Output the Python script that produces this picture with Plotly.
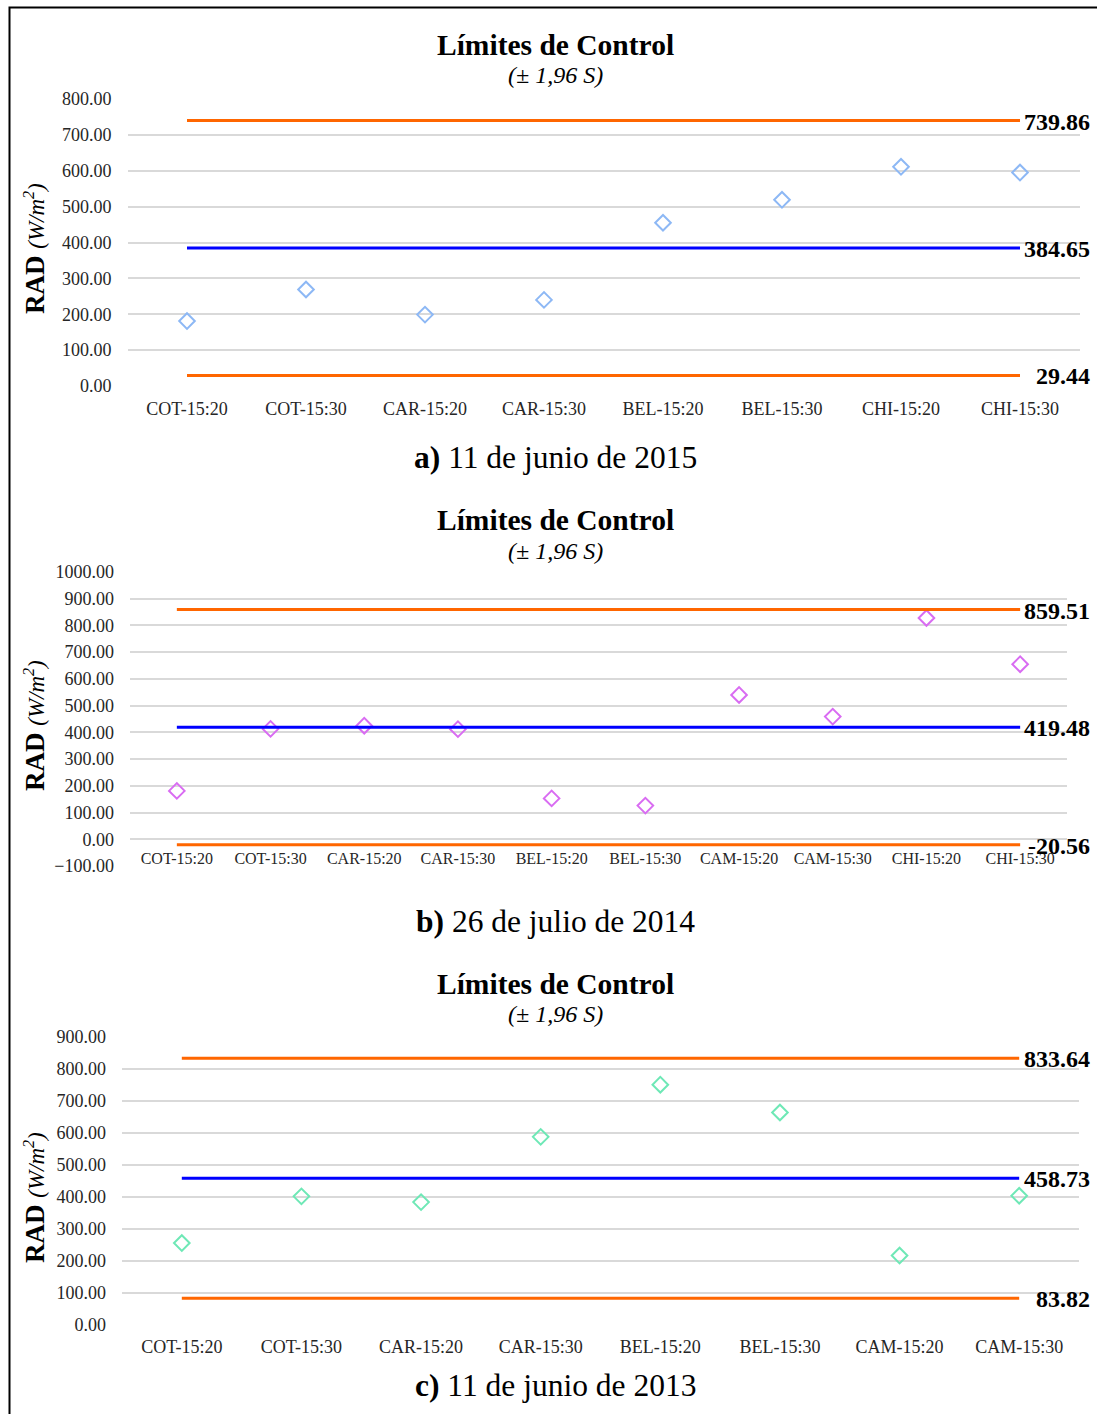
import plotly.graph_objects as go

W, H = 1097, 1414

# ---------------- data ----------------
cats_a = ["COT-15:20", "COT-15:30", "CAR-15:20", "CAR-15:30",
          "BEL-15:20", "BEL-15:30", "CHI-15:20", "CHI-15:30"]
rad_a = [181, 269, 199, 240, 455, 519, 611, 595]
ucl_a, mean_a, lcl_a = 739.86, 384.65, 29.44

cats_b = ["COT-15:20", "COT-15:30", "CAR-15:20", "CAR-15:30", "BEL-15:20",
          "BEL-15:30", "CAM-15:20", "CAM-15:30", "CHI-15:20", "CHI-15:30"]
rad_b = [181, 413, 425, 412, 153, 126, 540, 459, 828, 655]
ucl_b, mean_b, lcl_b = 859.51, 419.48, -20.56

cats_c = ["COT-15:20", "COT-15:30", "CAR-15:20", "CAR-15:30",
          "BEL-15:20", "BEL-15:30", "CAM-15:20", "CAM-15:30"]
rad_c = [256, 402, 384, 588, 751, 664, 217, 404]
ucl_c, mean_c, lcl_c = 833.64, 458.73, 83.82

captions = ["<b>a)</b> 11 de junio de 2015",
            "<b>b)</b> 26 de julio de 2014",
            "<b>c)</b> 11 de junio de 2013"]
title_main = "<b>Límites de Control</b>"
title_sub = "<i>(± 1,96 S)</i>"
ytitle = ("<b>RAD</b> <i><span style='font-size:23px'>(W/m<sup>2</sup>)</span></i>")

# ---------------- styling ----------------
FONT = "Liberation Serif, Times New Roman, serif"
ORANGE = "#FF6600"
BLUE = "#0000FF"
GRID = "#d9d9d9"
TICKC = "#262626"
marker_colors = ["#8DB8F5", "#D96CF2", "#6EE8B6"]

def px_x(p):
    return p / W

def px_y(p):
    return 1 - p / H

panels = [
    dict(cats=cats_a, vals=rad_a, lims=(ucl_a, mean_a, lcl_a), xdom=(127.5, 1079.5),
         ydom=(99, 386), yrange=(0, 800), xfont=18, xstand=10, title_y=45, sub_y=75,
         cap_y=458, ytitle_y=249, lab_shift=72),
    dict(cats=cats_b, vals=rad_b, lims=(ucl_b, mean_b, lcl_b), xdom=(130, 1067),
         ydom=(572, 866), yrange=(-100, 1000), xfont=16, xstand=8, title_y=520, sub_y=551,
         cap_y=921, ytitle_y=726, lab_shift=72),
    dict(cats=cats_c, vals=rad_c, lims=(ucl_c, mean_c, lcl_c), xdom=(122, 1079),
         ydom=(1037, 1325), yrange=(0, 900), xfont=18, xstand=9, title_y=984, sub_y=1014,
         cap_y=1385, ytitle_y=1198, lab_shift=73),
]

fig = go.Figure()
layout = dict(
    width=W, height=H, margin=dict(l=0, r=0, t=0, b=0, autoexpand=False),
    paper_bgcolor="white", plot_bgcolor="white", showlegend=False,
    font=dict(family=FONT, color="black"),
)
annotations = []

for i, p in enumerate(panels):
    n = i + 1
    xa = "x" if n == 1 else f"x{n}"
    ya = "y" if n == 1 else f"y{n}"
    cats = p["cats"]
    ucl, mean, lcl = p["lims"]

    # measured points
    fig.add_trace(go.Scatter(
        x=cats, y=p["vals"], mode="markers",
        marker=dict(symbol="diamond-open", size=12, color=marker_colors[i],
                    line=dict(width=2, color=marker_colors[i])),
        cliponaxis=False, xaxis=xa, yaxis=ya))
    # control limit lines with value labels at the right end
    for val, col in [(ucl, ORANGE), (mean, BLUE), (lcl, ORANGE)]:
        fig.add_trace(go.Scatter(
            x=[cats[0], cats[-1]], y=[val, val], mode="lines",
            line=dict(color=col, width=3),
            cliponaxis=False, xaxis=xa, yaxis=ya, hoverinfo="skip"))
        annotations.append(dict(
            text=f"<b>{val:.2f}</b>", x=cats[-1], y=val, xref=xa, yref=ya,
            showarrow=False, xanchor="right", yanchor="middle",
            xshift=p["lab_shift"], yshift=-1,
            font=dict(family=FONT, size=24, color="black")))

    yd = (px_y(p["ydom"][1]), px_y(p["ydom"][0]))
    xkey = "xaxis" if n == 1 else f"xaxis{n}"
    ykey = "yaxis" if n == 1 else f"yaxis{n}"
    y0, y1 = p["yrange"]
    xaxis = dict(
        domain=[px_x(p["xdom"][0]), px_x(p["xdom"][1])],
        type="category", categoryorder="array", categoryarray=cats,
        range=[-0.5, len(cats) - 0.5], automargin=False,
        showgrid=False, showline=False, zeroline=False,
        tickfont=dict(family=FONT, size=p["xfont"], color=TICKC),
        ticks="", ticklabelstandoff=p["xstand"], fixedrange=True,
    )
    if y0 < 0:
        # category axis crosses at value 0 (Excel default)
        xaxis["anchor"] = "free"
        xaxis["position"] = yd[0] + (0 - y0) / (y1 - y0) * (yd[1] - yd[0])
    else:
        xaxis["anchor"] = ya
    layout[xkey] = xaxis
    layout[ykey] = dict(
        domain=list(yd), anchor=xa, range=[y0, y1], dtick=100, automargin=False,
        tickformat=".2f", showgrid=True, gridcolor=GRID, gridwidth=2,
        zeroline=False, showline=False, ticks="", ticklabelstandoff=15,
        tickfont=dict(family=FONT, size=18, color=TICKC), fixedrange=True,
    )

    cx = px_x(555)
    annotations += [
        dict(text=title_main, x=cx, y=px_y(p["title_y"]), xref="paper", yref="paper",
             showarrow=False, font=dict(family=FONT, size=29.5, color="black"),
             xanchor="center", yanchor="middle"),
        dict(text=title_sub, x=cx, y=px_y(p["sub_y"]), xref="paper", yref="paper",
             showarrow=False, font=dict(family=FONT, size=24, color="black"),
             xanchor="center", yanchor="middle"),
        dict(text=captions[i], x=cx, y=px_y(p["cap_y"]), xref="paper", yref="paper",
             showarrow=False, font=dict(family=FONT, size=31.5, color="black"),
             xanchor="center", yanchor="middle"),
        dict(text=ytitle, x=px_x(35), y=px_y(p["ytitle_y"]), xref="paper", yref="paper",
             showarrow=False, textangle=-90, font=dict(family=FONT, size=27, color="black"),
             xanchor="center", yanchor="middle"),
    ]

layout["annotations"] = annotations
layout["shapes"] = [dict(type="rect", xref="paper", yref="paper",
                         x0=px_x(9.5), x1=1.02, y0=-0.02, y1=px_y(7.5),
                         line=dict(color="black", width=2), layer="above")]
fig.update_layout(**layout)
fig.write_html("out.html")
